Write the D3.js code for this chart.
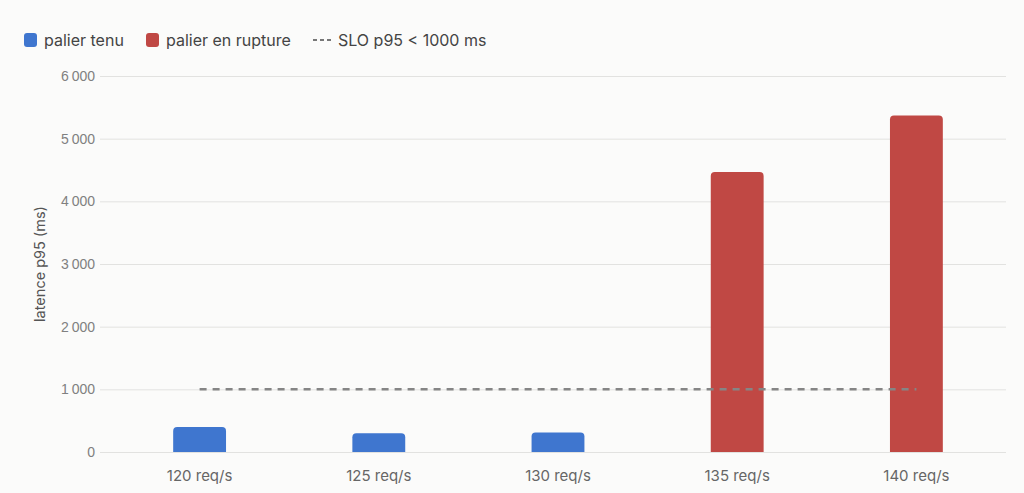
<!DOCTYPE html>
<html>
<head>
<meta charset="utf-8">
<script src="https://cdn.jsdelivr.net/npm/d3@7"></script>
<style>
  html, body { margin: 0; padding: 0; background: #fbfbfa; }
  svg { display: block; font-family: Inter, "Noto Sans", sans-serif; }
</style>
</head>
<body>
<svg id="chart" width="1024" height="493"></svg>
<script>
// Latence p95 par palier de charge
const categories = ['120 req/s', '125 req/s', '130 req/s', '135 req/s', '140 req/s'];
const latencies = [400, 300, 310, 4470, 5370];
const statuses = ['tenu', 'tenu', 'tenu', 'rupture', 'rupture'];
const yTicks = [0, 1000, 2000, 3000, 4000, 5000, 6000];
const sloValue = 1000;

const svg = d3.select('#chart');
const width = 1024;
const height = 493;
const margin = { top: 76, right: 18, bottom: 41, left: 110 };

const colors = { tenu: '#3f76cf', rupture: '#c04844' };

const x = d3.scaleBand()
    .domain(categories)
    .range([margin.left, width - margin.right])
    .paddingInner(0.705)
    .paddingOuter(0.3525);

const y = d3.scaleLinear()
    .domain([0, 6000])
    .range([height - margin.bottom, margin.top]);

const fr = d3.formatLocale({ decimal: ',', thousands: '\u2009', grouping: [3], currency: ['', ' €'] });
const fmt = fr.format(',d');

// Grid lines + y ticks
const yAxis = d3.axisLeft(y)
    .tickValues(yTicks)
    .tickSize(-(width - margin.right - 100))
    .tickPadding(5)
    .tickFormat(fmt);

const gy = svg.append('g')
    .attr('transform', 'translate(100,0)')
    .call(yAxis);
gy.select('.domain').remove();
gy.selectAll('.tick line')
    .attr('stroke', '#e2e2e0')
    .attr('stroke-width', 1);
gy.selectAll('.tick text')
    .attr('fill', '#808080')
    .attr('font-size', '14px');

// Y axis title
svg.append('text')
    .attr('transform', `translate(45,${(margin.top + height - margin.bottom) / 2}) rotate(-90)`)
    .attr('text-anchor', 'middle')
    .attr('font-size', '14.5px')
    .attr('fill', '#555')
    .text('latence p95 (ms)');

// Bars with rounded top corners
function barPath(x0, w, yTop, yBase, r) {
    r = Math.min(r, (yBase - yTop), w / 2);
    return `M${x0},${yBase}V${yTop + r}Q${x0},${yTop} ${x0 + r},${yTop}` +
        `H${x0 + w - r}Q${x0 + w},${yTop} ${x0 + w},${yTop + r}V${yBase}Z`;
}

svg.append('g')
    .selectAll('path')
    .data(categories)
    .enter()
    .append('path')
    .attr('d', (d, i) => barPath(x(d), x.bandwidth(), y(latencies[i]), y(0), 4))
    .attr('fill', (d, i) => colors[statuses[i]]);

// SLO line across bar centers
const first = categories[0];
const last = categories[categories.length - 1];
svg.append('line')
    .attr('x1', x(first) + x.bandwidth() / 2)
    .attr('x2', x(last) + x.bandwidth() / 2)
    .attr('y1', y(sloValue))
    .attr('y2', y(sloValue))
    .attr('stroke', '#858585')
    .attr('stroke-width', 2.5)
    .attr('stroke-dasharray', '7 6');

// X labels
svg.append('g')
    .selectAll('text')
    .data(categories)
    .enter()
    .append('text')
    .attr('x', d => x(d) + x.bandwidth() / 2)
    .attr('y', 481)
    .attr('text-anchor', 'middle')
    .attr('font-size', '15px')
    .attr('fill', '#666')
    .text(d => d);

// Legend
const legend = svg.append('g').attr('class', 'legend');
const legendItems = [
    { label: 'palier tenu', type: 'tenu', x: 24 },
    { label: 'palier en rupture', type: 'rupture', x: 146 }
];
legendItems.forEach(item => {
    legend.append('rect')
        .attr('x', item.x)
        .attr('y', 33)
        .attr('width', 13)
        .attr('height', 14)
        .attr('rx', 3)
        .attr('fill', colors[item.type]);
    legend.append('text')
        .attr('x', item.x + 20)
        .attr('y', 46)
        .attr('font-size', '16px')
        .attr('fill', '#444')
        .text(item.label);
});
legend.append('line')
    .attr('x1', 313)
    .attr('x2', 331)
    .attr('y1', 40)
    .attr('y2', 40)
    .attr('stroke', '#777')
    .attr('stroke-width', 2)
    .attr('stroke-dasharray', '4 3');
legend.append('text')
    .attr('x', 338)
    .attr('y', 46)
    .attr('font-size', '16px')
    .attr('fill', '#444')
    .text('SLO p95 < 1000 ms');
</script>
</body>
</html>
